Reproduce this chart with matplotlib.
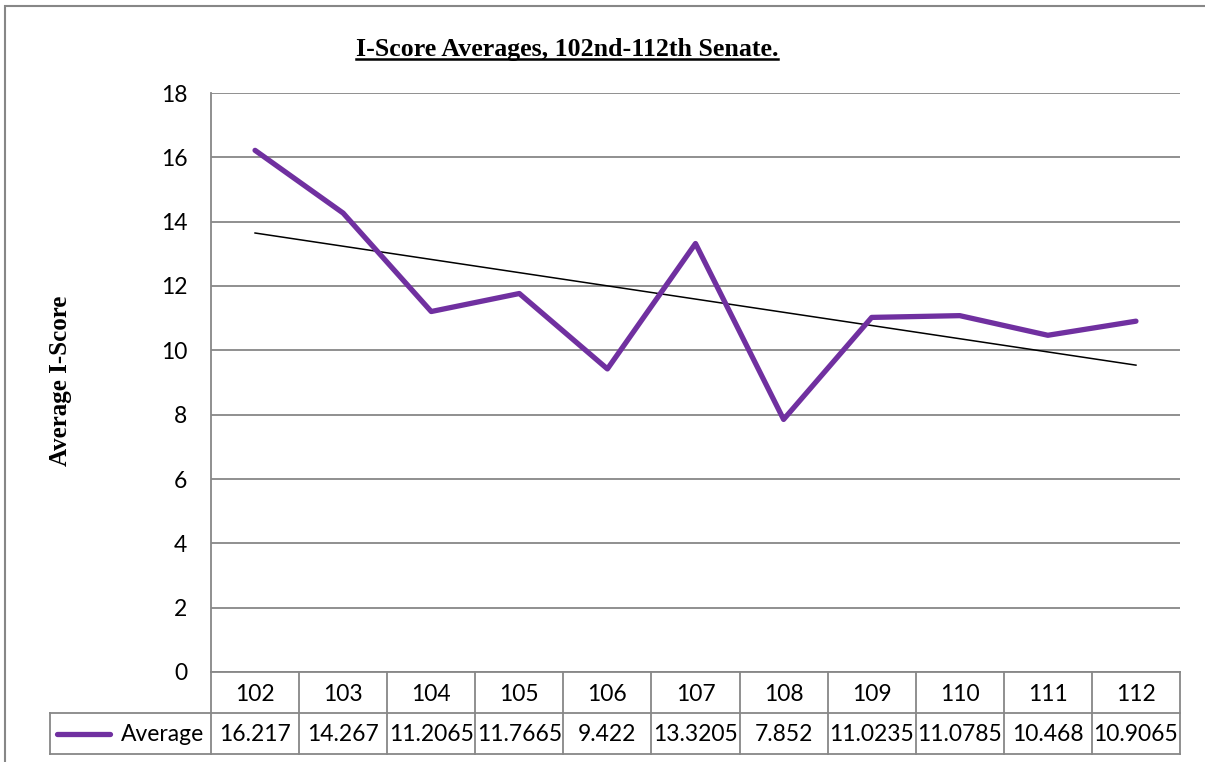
import numpy as np
import matplotlib
matplotlib.use('Agg')
import matplotlib.pyplot as plt
from matplotlib.lines import Line2D
from matplotlib.patches import Rectangle

# Datos del gráfico
sesiones = ['102', '103', '104', '105', '106', '107', '108', '109', '110', '111', '112']
promedios = [16.217, 14.267, 11.2065, 11.7665, 9.422, 13.3205, 7.852, 11.0235, 11.0785, 10.468, 10.9065]
etiquetas_tabla = ['16.217', '14.267', '11.2065', '11.7665', '9.422', '13.3205',
                   '7.852', '11.0235', '11.0785', '10.468', '10.9065']
serie = 'Average'
titulo = 'I-Score Averages, 102nd-112th Senate.'
etiqueta_y = 'Average I-Score'

MORADO = '#7030A0'
GRIS = '#878787'
FUENTE = ['Lato', 'DejaVu Sans']
SERIF = ['Liberation Serif', 'DejaVu Serif']
TAM = 16.5

W, H = 1205, 762
fig = plt.figure(figsize=(W / 100, H / 100), dpi=100)

# Marco exterior del gráfico (se sale por la derecha y por abajo)
fig.add_artist(Rectangle((5 / W, -0.1), 1.2, (H - 6) / H + 0.1, transform=fig.transFigure,
                         fill=False, edgecolor=GRIS, linewidth=1.5))

ax = fig.add_axes([211 / W, (H - 672) / H, 969 / W, 579 / H])
x = np.arange(len(sesiones))
ax.plot(x, promedios, color=MORADO, linewidth=3.8, solid_capstyle='round',
        solid_joinstyle='round', zorder=3)

# Línea de tendencia lineal
m, b = np.polyfit(x, promedios, 1)
ax.plot(x, m * x + b, color='black', linewidth=1.1, zorder=2)

ax.set_xlim(-0.5, len(sesiones) - 0.5)
ax.set_ylim(0, 18)
ax.set_yticks(range(0, 19, 2))
ax.set_xticks([])
ax.grid(axis='y', color=GRIS, linewidth=1.3)
ax.set_axisbelow(True)
for lado in ['top', 'right']:
    ax.spines[lado].set_visible(False)
ax.spines['left'].set_color(GRIS)
ax.spines['left'].set_linewidth(1.3)
ax.spines['bottom'].set_color(GRIS)
ax.spines['bottom'].set_linewidth(1.3)
ax.tick_params(axis='y', length=0, pad=17, labelsize=TAM)
for t in ax.get_yticklabels():
    t.set_fontfamily(FUENTE)

# Tabla de datos debajo del eje
tab = fig.add_axes([211 / W, (H - 754) / H, 969 / W, 82 / H])
tab.set_xlim(-0.5, len(sesiones) - 0.5)
tab.set_ylim(0, 2)
tab.axis('off')
ancho_col = 969 / len(sesiones)
izq = -0.5 - 161 / ancho_col
kw = dict(color=GRIS, linewidth=1.3, clip_on=False)
tab.plot([izq, len(sesiones) - 0.5], [0, 0], **kw)
tab.plot([izq, len(sesiones) - 0.5], [1, 1], **kw)
tab.plot([izq, izq], [0, 1], **kw)
tab.plot([-0.5, -0.5], [0, 2], **kw)
tab.plot([len(sesiones) - 0.5] * 2, [0, 2], **kw)
for i in range(1, len(sesiones)):
    tab.plot([i - 0.5, i - 0.5], [0, 2], **kw)
for i, (s, v) in enumerate(zip(sesiones, etiquetas_tabla)):
    tab.text(i, 1.46, s, ha='center', va='center', fontsize=TAM, family=FUENTE)
    tab.text(i, 0.47, v, ha='center', va='center', fontsize=TAM, family=FUENTE)

# Clave de la leyenda dentro de la tabla
tab.add_line(Line2D([izq + 7 / ancho_col, izq + 60 / ancho_col], [0.5, 0.5], color=MORADO,
                    linewidth=3.8, solid_capstyle='round', clip_on=False))
tab.text(-0.5 - 7 / ancho_col, 0.47, serie, ha='right', va='center', fontsize=TAM, family=FUENTE)

# Títulos
t = fig.text(567 / W, (H - 56) / H, titulo, ha='center', va='baseline',
             fontsize=18.6, fontweight='bold', family=SERIF)
fig.text(61 / W, (H - 381) / H, etiqueta_y, ha='center', va='center', rotation=90,
         fontsize=18, fontweight='bold', family=SERIF)

# Subrayado del título
fig.canvas.draw()
bb = t.get_window_extent().transformed(fig.transFigure.inverted())
y_sub = (H - 59) / H
fig.add_artist(Line2D([bb.x0, bb.x1], [y_sub, y_sub], color='black', linewidth=1.8,
                      transform=fig.transFigure))

plt.savefig('out.png', dpi=100)
plt.close()
